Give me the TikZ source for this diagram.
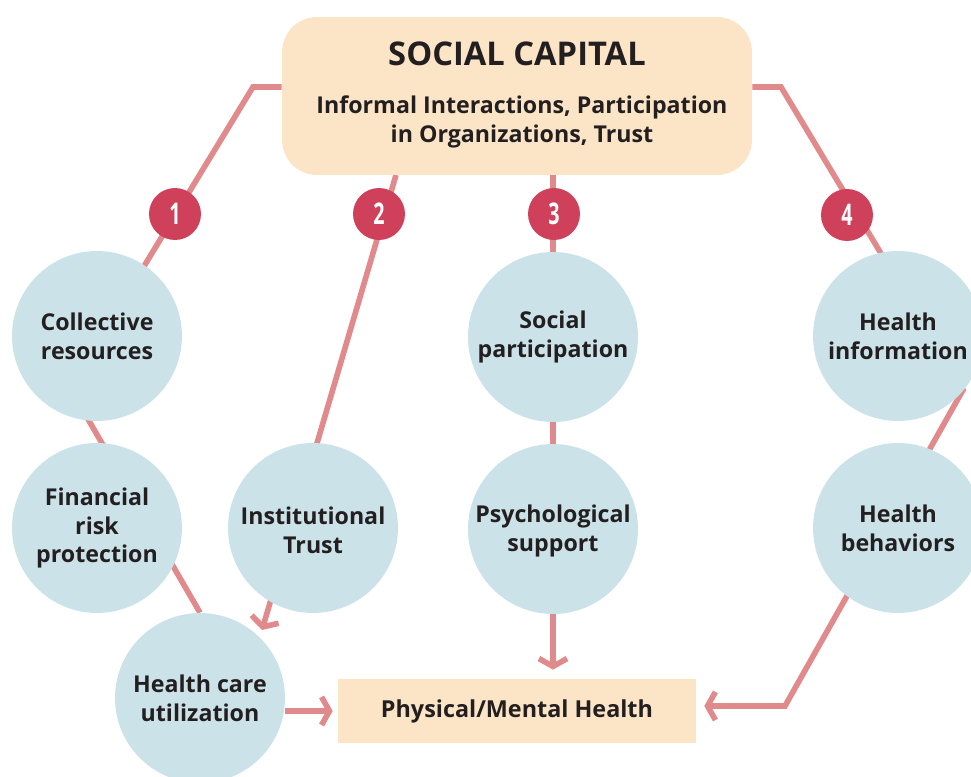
\documentclass[tikz,border=0pt]{standalone}
\usepackage{fontspec}
\setmainfont{Open Sans}
\usetikzlibrary{arrows.meta,backgrounds}
\definecolor{peach}{HTML}{FBE5C6}
\definecolor{mist}{HTML}{CBE3E8}
\definecolor{rose}{HTML}{E08A8C}
\definecolor{berry}{HTML}{CF405A}
\definecolor{ink}{HTML}{231F20}
\newcommand\digit[1]{\scalebox{.66}[1]{#1}}

\begin{document}
\begin{tikzpicture}[x=0.02cm, y=-0.02cm,
            link/.style={draw=rose, line width=3.2pt},
            arr/.style={link, -{Straight Barb[length=4.5pt,width=16pt]}},
            slab/.style={fill=peach, inner sep=0pt, text=ink, font=\bfseries\fontsize{13.3}{16}\selectfont},
            bubble/.style={circle, fill=mist, minimum size=3.4cm, inner sep=0pt, align=center,
                text=ink, font=\bfseries\fontsize{13.2}{16.4}\selectfont},
            badge/.style={circle, fill=berry, minimum size=1.04cm, inner sep=0pt, text=white,
                font=\bfseries\fontsize{17}{17}\selectfont},
            heading/.style={text=ink, font=\bfseries\fontsize{18.6}{20}\selectfont},
            blurb/.style={text=ink, align=center, font=\bfseries\fontsize{13.2}{16.8}\selectfont}]
            \useasboundingbox (0,0) rectangle (971,777);

            \node[slab, minimum width=9.4cm, minimum height=3.16cm, rounded corners=0.7cm] (top) at (517,96) {};
            \node[heading] (sc) at (517,54) {SOCIAL CAPITAL};
            \node[blurb] (forms) at (522,122) {Informal Interactions, Participation\\in Organizations, Trust};

            \node[bubble] (coll) at (97,336) {Collective\\resources};
            \node[bubble] (fin) at (97,528) {Financial\\risk\\protection};
            \node[bubble] (hcu) at (200,698) {Health care\\utilization};
            \node[bubble] (inst) at (313,528) {\\[-4pt]Institutional\\Trust};
            \node[bubble] (soc) at (553,337) {Social\\participation};
            \node[bubble] (psy) at (553,529) {\\[-4pt]Psychological\\support};
            \node[bubble] (info) at (898,336) {Health\\information};
            \node[bubble] (beh) at (898,528) {Health\\behaviors};

            \node[slab, minimum width=7.16cm, minimum height=1.28cm] (phys) at (517,711) {Physical/Mental Health};

            \coordinate (nw) at (253,87);
            \coordinate (w) at (70,388);
            \coordinate (ne) at (781,87);
            \coordinate (e) at (963,390);
            \coordinate (se) at (785,706);
            \coordinate (t2) at (396,175);
            \coordinate (tip2) at (262,630);

            \begin{pgfonlayer}{background}
                \draw[link] (top.west |- nw) -- (nw) -- (w) -- (hcu.north);
                \draw[arr] (top.east |- ne) -- (ne) -- (e) -- (se) -- ([xshift=0.16cm]phys.east |- se);
                \draw[arr] (t2) -- (tip2);
                \draw[arr] (soc |- top.south) -- ([yshift=0.18cm]soc |- phys.north);
                \draw[arr] (hcu.east |- phys.west) -- ([xshift=-0.1cm]phys.west);
            \end{pgfonlayer}

            \node[badge] (n1) at (175,214) {\digit{1}};
            \node[badge] (n2) at (379,214) {\digit{2}};
            \node[badge] (n3) at (554,214) {\digit{3}};
            \node[badge] (n4) at (847,215) {\digit{4}};
        \end{tikzpicture}
\end{document}
